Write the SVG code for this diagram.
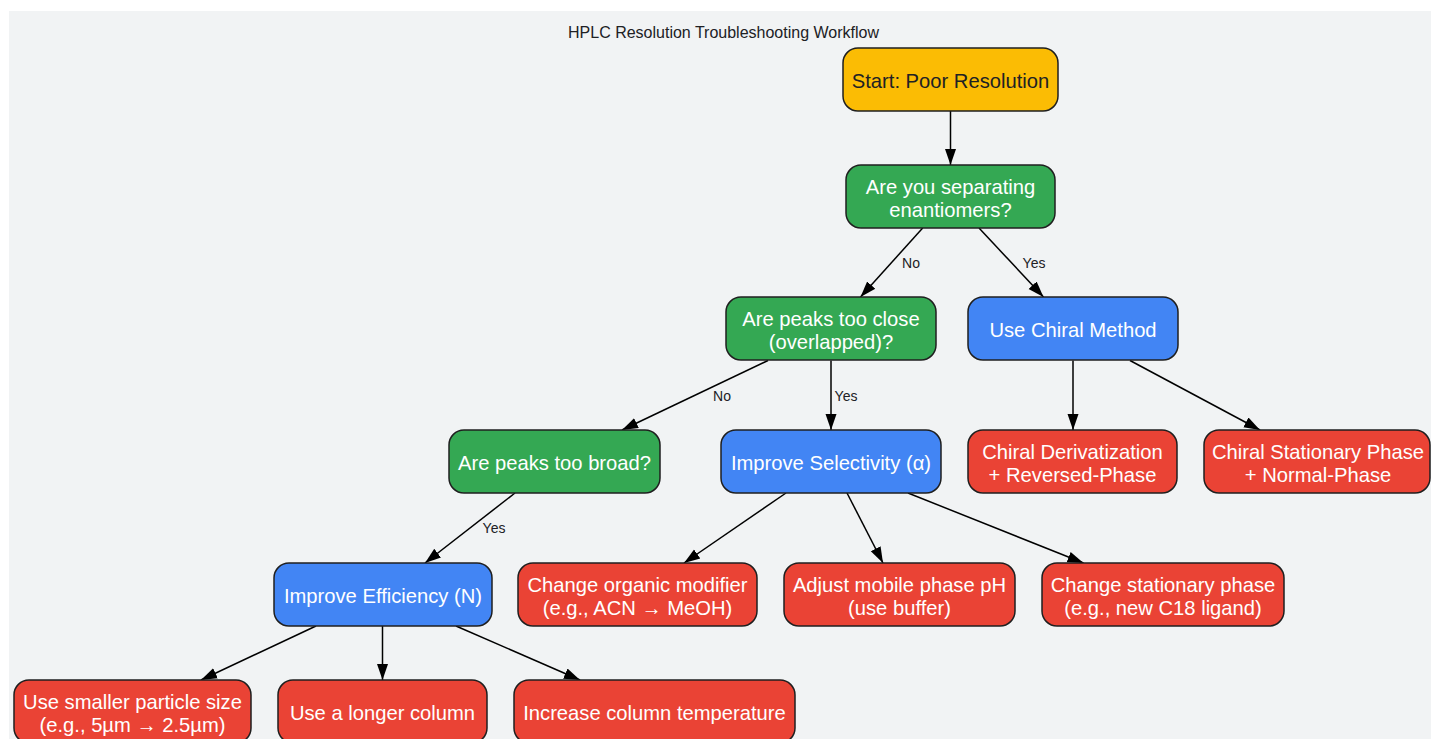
<svg xmlns="http://www.w3.org/2000/svg" width="1431" height="739" viewBox="0 0 1431 739">
<style>
.node rect{stroke:#1f1f1f;stroke-width:1.5}
.y rect{fill:#fbbc04}
.g rect{fill:#34a853}
.b rect{fill:#4285f4}
.r rect{fill:#ea4335}
.node text{font-family:"Liberation Sans",Arial,sans-serif;font-size:20.2px;fill:#ffffff;text-anchor:middle;dominant-baseline:central}
.y text{fill:#202124}
.title{font-family:"Liberation Sans",Arial,sans-serif;font-size:16px;fill:#202124;text-anchor:middle}
.edges line{stroke:#000;stroke-width:1.5;marker-end:url(#arr)}
.lbl{font-family:"Liberation Sans",Arial,sans-serif;font-size:14px;fill:#202124;text-anchor:middle;dominant-baseline:central}
</style>
<defs>
<marker id="arr" markerUnits="userSpaceOnUse" markerWidth="18" markerHeight="14" viewBox="0 -7 18 14" refX="16" refY="0" orient="auto">
<path d="M0,-5.5 L16,0 L0,5.5 z" fill="#000"/>
</marker>
</defs>
<rect x="0" y="0" width="1431" height="739" fill="#ffffff"/>
<rect x="9" y="11" width="1422" height="728" fill="#f1f3f4"/>
<text class="title" x="723.5" y="38">HPLC Resolution Troubleshooting Workflow</text>

<g id="connectors" class="edges">
<line x1="950.5" y1="111" x2="950.5" y2="165"/>
<line x1="922.7" y1="228" x2="860.5" y2="297"/>
<line x1="979" y1="228" x2="1043.5" y2="297"/>
<line x1="768" y1="360.5" x2="622" y2="430"/>
<line x1="831" y1="360.5" x2="831" y2="430"/>
<line x1="515" y1="493" x2="425" y2="563"/>
<line x1="786" y1="493" x2="684" y2="563"/>
<line x1="847" y1="493" x2="883" y2="563"/>
<line x1="908" y1="493" x2="1083.5" y2="563"/>
<line x1="1073" y1="360.5" x2="1073" y2="430"/>
<line x1="1130" y1="360.5" x2="1260" y2="430"/>
<line x1="316" y1="626" x2="201" y2="680"/>
<line x1="382.5" y1="626" x2="382.5" y2="680"/>
<line x1="456" y1="626" x2="580" y2="680"/>
</g>
<g id="edge-labels">
<text class="lbl" x="911" y="263">No</text>
<text class="lbl" x="1034" y="263">Yes</text>
<text class="lbl" x="722" y="396">No</text>
<text class="lbl" x="846" y="396">Yes</text>
<text class="lbl" x="494" y="528">Yes</text>
</g>

<g id="start" class="node y"><rect x="843" y="48" width="215" height="63" rx="15"/><text x="950.5" y="81">Start: Poor Resolution</text></g>
<g id="enantiomers" class="node g"><rect x="846" y="165" width="209" height="63" rx="15"/><text x="950.5" y="186.5">Are you separating</text><text x="950.5" y="209.5">enantiomers?</text></g>
<g id="close" class="node g"><rect x="726" y="297" width="210" height="63" rx="15"/><text x="831" y="318.5">Are peaks too close</text><text x="831" y="341.5">(overlapped)?</text></g>
<g id="chiral" class="node b"><rect x="968" y="297" width="210" height="63" rx="15"/><text x="1073" y="330">Use Chiral Method</text></g>
<g id="broad" class="node g"><rect x="449" y="430" width="211" height="63" rx="15"/><text x="554.5" y="463">Are peaks too broad?</text></g>
<g id="selectivity" class="node b"><rect x="721" y="430" width="220" height="63" rx="15"/><text x="831" y="463">Improve Selectivity (α)</text></g>
<g id="derivatization" class="node r"><rect x="968" y="430" width="209" height="63" rx="15"/><text x="1072.5" y="451.5">Chiral Derivatization</text><text x="1072.5" y="474.5">+ Reversed-Phase</text></g>
<g id="csp" class="node r"><rect x="1204" y="430" width="226" height="63" rx="15"/><text x="1318" y="451.5">Chiral Stationary Phase</text><text x="1318" y="474.5">+ Normal-Phase</text></g>
<g id="efficiency" class="node b"><rect x="274" y="563" width="218" height="63" rx="15"/><text x="383" y="596">Improve Efficiency (N)</text></g>
<g id="organic" class="node r"><rect x="518" y="563" width="239" height="63" rx="15"/><text x="637.5" y="584.5">Change organic modifier</text><text x="637.5" y="607.5">(e.g., ACN → MeOH)</text></g>
<g id="ph" class="node r"><rect x="784" y="563" width="231" height="63" rx="15"/><text x="899.5" y="584.5">Adjust mobile phase pH</text><text x="899.5" y="607.5">(use buffer)</text></g>
<g id="stationary" class="node r"><rect x="1042" y="563" width="242" height="63" rx="15"/><text x="1163" y="584.5">Change stationary phase</text><text x="1163" y="607.5">(e.g., new C18 ligand)</text></g>
<g id="particle" class="node r"><rect x="14" y="680" width="237" height="63" rx="15"/><text x="132.5" y="701.5">Use smaller particle size</text><text x="132.5" y="724.5">(e.g., 5µm → 2.5µm)</text></g>
<g id="longer" class="node r"><rect x="278" y="680" width="209" height="63" rx="15"/><text x="382.5" y="713">Use a longer column</text></g>
<g id="temperature" class="node r"><rect x="514" y="680" width="281" height="63" rx="15"/><text x="654.5" y="713">Increase column temperature</text></g>
</svg>
